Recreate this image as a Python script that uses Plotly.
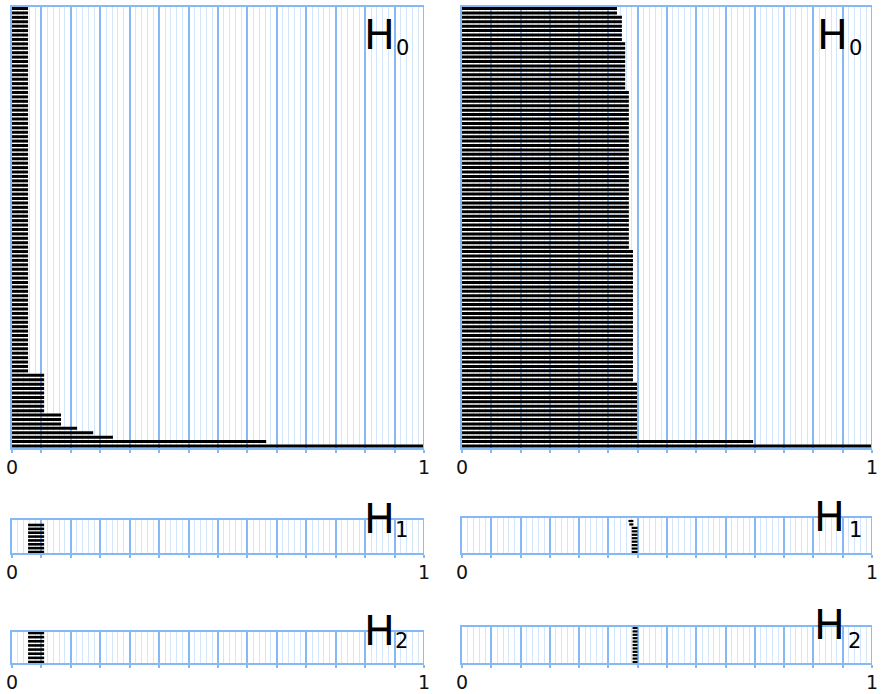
import plotly.graph_objects as go

W, H = 882, 694

# ---------------- data ----------------
# H0, left diagram: death values, top bar first (all born at 0)
h0_left_death = [
    0.039, 0.039, 0.039, 0.039, 0.039, 0.039, 0.039, 0.039, 0.039, 0.039,
    0.039, 0.039, 0.039, 0.039, 0.039, 0.039, 0.039, 0.039, 0.039, 0.039,
    0.039, 0.039, 0.039, 0.039, 0.039, 0.039, 0.039, 0.039, 0.039, 0.039,
    0.039, 0.039, 0.039, 0.039, 0.039, 0.039, 0.039, 0.039, 0.039, 0.039,
    0.039, 0.039, 0.039, 0.039, 0.039, 0.039, 0.039, 0.039, 0.039, 0.039,
    0.039, 0.039, 0.039, 0.039, 0.039, 0.039, 0.039, 0.039, 0.039, 0.039,
    0.039, 0.039, 0.039, 0.039, 0.039, 0.039, 0.039, 0.039, 0.039, 0.039,
    0.039, 0.039, 0.039, 0.039, 0.039, 0.039, 0.039, 0.039, 0.039, 0.039,
    0.039, 0.039, 0.039,
    0.078, 0.078, 0.078, 0.078, 0.078, 0.078, 0.078, 0.078, 0.078,
    0.119, 0.119, 0.119,
    0.158, 0.197, 0.245, 0.617, 1.0,
]
# H0, right diagram
h0_right_death = [
    0.378, 0.378,
    0.390, 0.390, 0.390, 0.390, 0.390, 0.390,
    0.398, 0.398, 0.398, 0.398, 0.398, 0.398, 0.398, 0.398, 0.398, 0.398, 0.398,
    0.407, 0.407, 0.407, 0.407, 0.407, 0.407, 0.407, 0.407, 0.407, 0.407,
    0.407, 0.407, 0.407, 0.407, 0.407, 0.407, 0.407, 0.407, 0.407, 0.407,
    0.407, 0.407, 0.407, 0.407, 0.407, 0.407, 0.407, 0.407, 0.407, 0.407,
    0.407, 0.407, 0.407, 0.407, 0.407, 0.407,
    0.417, 0.417, 0.417, 0.417, 0.417, 0.417, 0.417, 0.417, 0.417, 0.417,
    0.417, 0.417, 0.417, 0.417, 0.417, 0.417, 0.417, 0.417, 0.417, 0.417,
    0.417, 0.417, 0.417, 0.417, 0.417, 0.417, 0.417, 0.417, 0.417, 0.417,
    0.427, 0.427, 0.427, 0.427, 0.427, 0.427, 0.427, 0.427, 0.427, 0.427,
    0.427, 0.427, 0.427,
    0.710, 1.0,
]
# H1 / H2 bars: birth and death
h1_left_birth = [0.039, 0.039, 0.039, 0.039, 0.039, 0.039, 0.039, 0.039]
h1_left_death = [0.078, 0.078, 0.078, 0.078, 0.078, 0.078, 0.078, 0.078]
h2_left_birth = [0.039, 0.039, 0.039, 0.039, 0.039, 0.039, 0.039, 0.039]
h2_left_death = [0.078, 0.078, 0.078, 0.078, 0.078, 0.078, 0.078, 0.078]
h1_right_birth = [0.406, 0.408, 0.414, 0.414, 0.414, 0.414, 0.414, 0.414, 0.414, 0.414]
h1_right_death = [0.418, 0.418, 0.428, 0.428, 0.428, 0.428, 0.428, 0.428, 0.428, 0.428]
h2_right_birth = [0.416, 0.416, 0.416, 0.416, 0.416, 0.416, 0.416, 0.416, 0.416, 0.416, 0.416]
h2_right_death = [0.428, 0.428, 0.428, 0.428, 0.428, 0.428, 0.428, 0.428, 0.428, 0.428, 0.428]

tick_labels = ["0", "1"]
dim_labels = ["0", "1", "2"]

# ---------------- styling ----------------
MAJOR = "#84b9f6"
MINOR = "#d3e6fc"
RED = "#f59a9a"
FONT = "DejaVu Sans"

def px_x(p):
    return p / W

def px_y(p):
    return 1 - p / H

# panels: (births, deaths, x-domain px, y-domain px, first bar px, last bar px, width)
panels = [
    (None, h0_left_death, (12, 424), (7, 448), 8.5, 446, 3.0),
    (None, h0_right_death, (462, 872), (7, 448), 8.5, 446, 3.0),
    (h1_left_birth, h1_left_death, (12, 424), (520, 553), 525, 552, 2.6),
    (h1_right_birth, h1_right_death, (462, 872), (518, 553), 521, 552, 2.2),
    (h2_left_birth, h2_left_death, (12, 424), (632, 663), 633, 662, 2.6),
    (h2_right_birth, h2_right_death, (462, 872), (627, 663), 628, 662, 2.2),
]

major_vals = [k / 14 for k in range(15)]
major_text = [tick_labels[0]] + [""] * 13 + [tick_labels[1]]
minor_vals = [k / 70 for k in range(71) if k % 5 != 0]

fig = go.Figure()
layout = dict(
    width=W, height=H, margin=dict(l=0, r=0, t=0, b=0, pad=0), autosize=False,
    paper_bgcolor="white", plot_bgcolor="white", showlegend=False,
)
shapes = []
for i, (births, deaths, xd, yd, first_px, last_px, lw) in enumerate(panels):
    n = len(deaths)
    if births is None:
        births = [0.0 for _ in deaths]
    xs, ys = [], []
    for k, (b, d) in enumerate(zip(births, deaths)):
        xs += [b, d, None]
        ys += [k, k, None]
    suffix = "" if i == 0 else str(i + 1)
    fig.add_trace(go.Scatter(x=xs, y=ys, mode="lines",
                             line=dict(color="black", width=lw),
                             xaxis="x" + suffix, yaxis="y" + suffix,
                             hoverinfo="skip"))
    top_px, bot_px = yd
    slope = (last_px - first_px) / max(n - 1, 1)
    r_top = -(first_px - top_px) / slope
    r_bot = r_top + (bot_px - top_px) / slope
    layout["xaxis" + suffix] = dict(
        domain=[px_x(xd[0]), px_x(xd[1])], range=[0, 1],
        anchor="y" + suffix, automargin=False,
        tickmode="array", tickvals=major_vals, ticktext=major_text,
        showgrid=True, gridcolor=MAJOR, gridwidth=1.6,
        minor=dict(tickmode="array", tickvals=minor_vals, showgrid=True,
                   gridcolor=MINOR, gridwidth=1, ticks=""),
        ticks="outside", ticklen=3, tickwidth=1.5, tickcolor=MAJOR,
        showline=True, linecolor=MAJOR, linewidth=2, mirror=True,
        zeroline=False, fixedrange=True, layer="below traces",
        ticklabelstandoff=-2,
        tickfont=dict(size=19, family=FONT, color="#111"),
    )
    layout["yaxis" + suffix] = dict(
        domain=[px_y(yd[1]), px_y(yd[0])], range=[r_bot, r_top],
        anchor="x" + suffix, automargin=False, showgrid=False, showticklabels=False,
        zeroline=False, showline=True, linecolor=MAJOR, linewidth=1.5,
        ticks="", fixedrange=True,
    )
    shapes.append(dict(type="line", xref="x" + suffix, yref="y" + suffix + " domain",
                       x0=1, x1=1, y0=0, y1=1, line=dict(color=RED, width=2),
                       layer="above"))

# H labels: (H centre px, sub centre px, dim index)
labels = [
    ((379, 35), (402, 47.5), 0),
    ((832, 35), (855, 47.5), 0),
    ((379, 519), (401, 530), 1),
    ((829.5, 517), (855, 530), 1),
    ((379, 631), (401, 641), 2),
    ((829.5, 625), (854, 641), 2),
]
annotations = []
for (hx, hy), (sx, sy), d in labels:
    annotations.append(dict(text="H", x=px_x(hx), y=px_y(hy), xref="paper", yref="paper",
                            xanchor="center", yanchor="middle", showarrow=False,
                            font=dict(size=41, family=FONT, color="black")))
    annotations.append(dict(text=dim_labels[d], x=px_x(sx), y=px_y(sy), xref="paper",
                            yref="paper", xanchor="center", yanchor="middle",
                            showarrow=False,
                            font=dict(size=21, family=FONT, color="black")))
layout["shapes"] = shapes
layout["annotations"] = annotations
fig.update_layout(**layout)
fig.write_html("out.html", config={"displayModeBar": False, "responsive": False},
               post_script="document.body.style.margin='0px';document.body.style.overflow='hidden';")
